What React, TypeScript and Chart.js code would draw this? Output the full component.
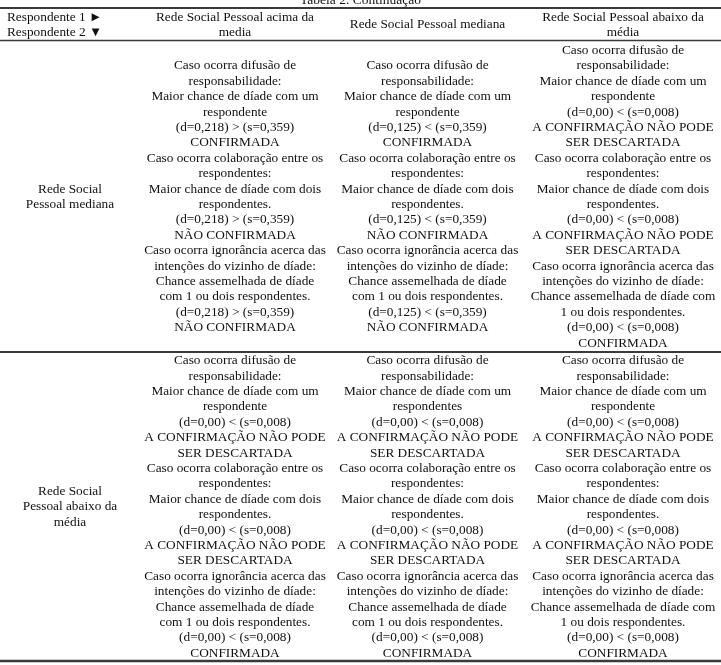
import React, { useEffect, useRef } from "react";
import { Chart, registerables } from "chart.js";

Chart.register(...registerables);

const TITLE = "Tabela 2. Continuação";
const CORNER_LABELS = ["Respondente 1 ►", "Respondente 2 ▼"];
const COLUMN_HEADERS = [
  ["Rede Social Pessoal acima da", "media"],
  ["Rede Social Pessoal mediana"],
  ["Rede Social Pessoal abaixo da", "média"],
];
const ROW_HEADERS = [
  ["Rede Social", "Pessoal mediana"],
  ["Rede Social", "Pessoal abaixo da", "média"],
];
const ROW1_CELLS = [
  [
    "Caso ocorra difusão de", "responsabilidade:", "Maior chance de díade com um", "respondente",
    "(d=0,218) > (s=0,359)", "CONFIRMADA",
    "Caso ocorra colaboração entre os", "respondentes:", "Maior chance de díade com dois", "respondentes.",
    "(d=0,218) > (s=0,359)", "NÃO CONFIRMADA",
    "Caso ocorra ignorância acerca das", "intenções do vizinho de díade:", "Chance assemelhada de díade", "com 1 ou dois respondentes.",
    "(d=0,218) > (s=0,359)", "NÃO CONFIRMADA",
  ],
  [
    "Caso ocorra difusão de", "responsabilidade:", "Maior chance de díade com um", "respondente",
    "(d=0,125) < (s=0,359)", "CONFIRMADA",
    "Caso ocorra colaboração entre os", "respondentes:", "Maior chance de díade com dois", "respondentes.",
    "(d=0,125) < (s=0,359)", "NÃO CONFIRMADA",
    "Caso ocorra ignorância acerca das", "intenções do vizinho de díade:", "Chance assemelhada de díade", "com 1 ou dois respondentes.",
    "(d=0,125) < (s=0,359)", "NÃO CONFIRMADA",
  ],
  [
    "Caso ocorra difusão de", "responsabilidade:", "Maior chance de díade com um", "respondente",
    "(d=0,00) < (s=0,008)", "A CONFIRMAÇÃO NÃO PODE", "SER DESCARTADA",
    "Caso ocorra colaboração entre os", "respondentes:", "Maior chance de díade com dois", "respondentes.",
    "(d=0,00) < (s=0,008)", "A CONFIRMAÇÃO NÃO PODE", "SER DESCARTADA",
    "Caso ocorra ignorância acerca das", "intenções do vizinho de díade:", "Chance assemelhada de díade com", "1 ou dois respondentes.",
    "(d=0,00) < (s=0,008)", "CONFIRMADA",
  ],
];
const ROW2_CELLS = [
  [
    "Caso ocorra difusão de", "responsabilidade:", "Maior chance de díade com um", "respondente",
    "(d=0,00) < (s=0,008)", "A CONFIRMAÇÃO NÃO PODE", "SER DESCARTADA",
    "Caso ocorra colaboração entre os", "respondentes:", "Maior chance de díade com dois", "respondentes.",
    "(d=0,00) < (s=0,008)", "A CONFIRMAÇÃO NÃO PODE", "SER DESCARTADA",
    "Caso ocorra ignorância acerca das", "intenções do vizinho de díade:", "Chance assemelhada de díade", "com 1 ou dois respondentes.",
    "(d=0,00) < (s=0,008)", "CONFIRMADA",
  ],
  [
    "Caso ocorra difusão de", "responsabilidade:", "Maior chance de díade com um", "respondentes",
    "(d=0,00) < (s=0,008)", "A CONFIRMAÇÃO NÃO PODE", "SER DESCARTADA",
    "Caso ocorra colaboração entre os", "respondentes:", "Maior chance de díade com dois", "respondentes.",
    "(d=0,00) < (s=0,008)", "A CONFIRMAÇÃO NÃO PODE", "SER DESCARTADA",
    "Caso ocorra ignorância acerca das", "intenções do vizinho de díade:", "Chance assemelhada de díade", "com 1 ou dois respondentes.",
    "(d=0,00) < (s=0,008)", "CONFIRMADA",
  ],
  [
    "Caso ocorra difusão de", "responsabilidade:", "Maior chance de díade com um", "respondente",
    "(d=0,00) < (s=0,008)", "A CONFIRMAÇÃO NÃO PODE", "SER DESCARTADA",
    "Caso ocorra colaboração entre os", "respondentes:", "Maior chance de díade com dois", "respondentes.",
    "(d=0,00) < (s=0,008)", "A CONFIRMAÇÃO NÃO PODE", "SER DESCARTADA",
    "Caso ocorra ignorância acerca das", "intenções do vizinho de díade:", "Chance assemelhada de díade com", "1 ou dois respondentes.",
    "(d=0,00) < (s=0,008)", "CONFIRMADA",
  ],
];

const W = 721;
const H = 665;
const COL_EDGES = [0, 140, 330, 525, 721];
const RULE_TOP = 8;
const RULE_HEAD = 40.5;
const ROW_EDGES = [RULE_HEAD, 352, 661];
const BODY_FONT = '13.3px "Liberation Serif", "Times New Roman", serif';
const HEAD_FONT = '13.3px "Liberation Serif", "Times New Roman", serif';
const TITLE_FONT = '13.5px "Liberation Serif", "Times New Roman", serif';
const BODY_LH = 15.4;
const HEAD_LH = 15;
const TEXT_COLOR = "#111";
const RULE_COLOR = "#3a3a3a";

const tablePlugin = {
  id: "tablePlugin",
  afterDraw(chart: any) {
    const ctx = chart.ctx as CanvasRenderingContext2D;
    ctx.save();
    ctx.fillStyle = "#fff";
    ctx.fillRect(0, 0, W, H);

    // title
    ctx.fillStyle = TEXT_COLOR;
    ctx.font = TITLE_FONT;
    ctx.textAlign = "center";
    ctx.textBaseline = "alphabetic";
    ctx.fillText(TITLE, W / 2, 4);

    // rules
    ctx.strokeStyle = RULE_COLOR;
    const hline = (y: number, lw: number) => {
      ctx.lineWidth = lw;
      ctx.beginPath();
      ctx.moveTo(0, y);
      ctx.lineTo(W, y);
      ctx.stroke();
    };
    hline(RULE_TOP, 2);
    hline(RULE_HEAD, 1.5);
    hline(ROW_EDGES[1], 2);
    hline(ROW_EDGES[2], 2.5);

    const drawLines = (lines: string[], cx: number, cy: number, lh: number, align: CanvasTextAlign) => {
      ctx.textAlign = align;
      ctx.textBaseline = "middle";
      const start = cy - ((lines.length - 1) * lh) / 2;
      lines.forEach((ln, i) => ctx.fillText(ln, cx, start + i * lh));
    };

    // header
    const headCy = (RULE_TOP + RULE_HEAD) / 2 + 0.5;
    ctx.font = HEAD_FONT;
    ctx.fillStyle = TEXT_COLOR;
    drawLines(CORNER_LABELS, 7, headCy, HEAD_LH, "left");
    COLUMN_HEADERS.forEach((h, c) => {
      const cx = (COL_EDGES[c + 1] + COL_EDGES[c + 2]) / 2;
      drawLines(h, cx, headCy, HEAD_LH, "center");
    });

    // body
    ctx.font = BODY_FONT;
    const bodyRows = [ROW1_CELLS, ROW2_CELLS];
    bodyRows.forEach((cells, r) => {
      const cy = (ROW_EDGES[r] + ROW_EDGES[r + 1]) / 2 + 0.5;
      drawLines(ROW_HEADERS[r], (COL_EDGES[0] + COL_EDGES[1]) / 2, cy, BODY_LH, "center");
      cells.forEach((lines, c) => {
        const cx = (COL_EDGES[c + 1] + COL_EDGES[c + 2]) / 2;
        drawLines(lines, cx, cy, BODY_LH, "center");
      });
    });
    ctx.restore();
  },
};

export default function App() {
  const ref = useRef<HTMLCanvasElement | null>(null);
  useEffect(() => {
    document.body.style.margin = "0";
    const canvas = ref.current;
    if (!canvas) return;
    const chart = new Chart(canvas, {
      type: "scatter",
      data: { datasets: [] },
      options: {
        responsive: false,
        animation: false,
        devicePixelRatio: 1,
        layout: { padding: 0 },
        plugins: { legend: { display: false }, tooltip: { enabled: false }, title: { display: false } },
        scales: { x: { display: false }, y: { display: false } },
      },
      plugins: [tablePlugin],
    });
    return () => chart.destroy();
  }, []);
  return (
    <div style={{ width: W, height: H, background: "#fff" }}>
      <canvas ref={ref} width={W} height={H} style={{ display: "block", width: W, height: H }} />
    </div>
  );
}
